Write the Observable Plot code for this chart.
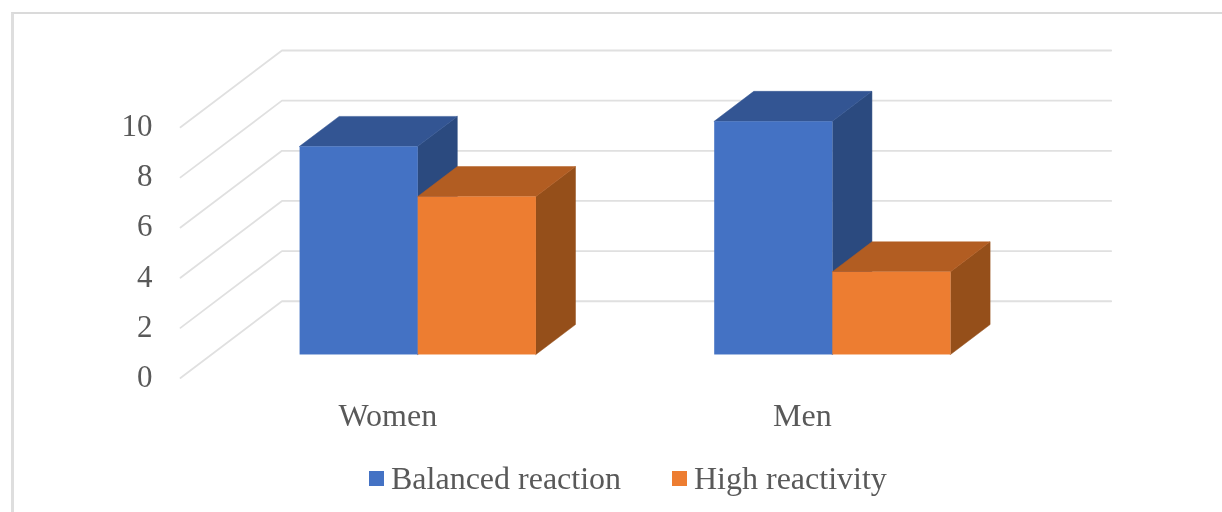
<!DOCTYPE html>
<html>
<head>
<meta charset="utf-8">
<script src="https://cdn.jsdelivr.net/npm/d3@7"></script>
<script src="https://cdn.jsdelivr.net/npm/@observablehq/plot@0.6"></script>
<style>
  html, body { margin: 0; padding: 0; background: #fff; width: 1222px; height: 512px; overflow: hidden; }
  #frame { position: absolute; left: 11px; top: 12px; width: 1230px; height: 520px; border-top: 2.5px solid #DADADA; border-left: 3px solid #DEDEDE; box-sizing: border-box; }
  #chart { position: absolute; left: 0; top: 0; }
  #chart svg { display: block; filter: blur(0.4px); }
  #legend { position: absolute; left: 0; top: 455px; width: 1222px; height: 57px; font: 32px "Liberation Serif", serif; color: #595959; filter: blur(0.4px); }
  #legend .item { position: absolute; top: 5px; display: flex; align-items: center; white-space: nowrap; line-height: 36px; }
  #legend .swatch { width: 15px; height: 15px; margin-right: 7px; display: inline-block; }
</style>
</head>
<body>
<div id="frame"></div>
<div id="chart"></div>
<div id="legend"></div>
<script>
const categories = ["Women", "Men"];
const seriesNames = ["Balanced reaction", "High reactivity"];
const balanced = [8.3, 9.3];
const highReactivity = [6.3, 3.3];
const valueTicks = [0, 2, 4, 6, 8, 10];

const frontColors = ["#4472C4", "#ED7D31"];
const topColors = ["#335593", "#B25D22"];
const sideColors = ["#2B4A7F", "#954F1A"];

// Oblique projection, in data units of the two scales
const depthX = 0.2447;   // category units across the floor's depth
const depthY = 3.06;     // value units up the floor's depth
const barFront = 0.30;   // share of the depth where a bar starts
const barBack = 0.69;    // share of the depth where a bar ends
const barWidth = 0.285;  // category units

const gridRows = valueTicks.flatMap(v => [
  {v, x: 0, y: v},
  {v, x: depthX, y: v + depthY},
  {v, x: categories.length + depthX, y: v + depthY}
]);

const barMarks = [];
categories.forEach((cat, c) => {
  [balanced, highReactivity].forEach((series, s) => {
    const value = series[c];
    const x0 = c + 0.5 - barWidth + s * barWidth;
    const x1 = x0 + barWidth;
    const fx = x0 + barFront * depthX, fx1 = x1 + barFront * depthX;
    const bx = x0 + barBack * depthX, bx1 = x1 + barBack * depthX;
    const fBase = barFront * depthY, fTop = value + fBase;
    const bBase = barBack * depthY, bTop = value + bBase;
    barMarks.push(
      Plot.areaY([{x: fx1, y1: fBase, y2: fTop}, {x: bx1, y1: bBase, y2: bTop}],
        {x: "x", y1: "y1", y2: "y2", fill: sideColors[s], stroke: sideColors[s], strokeWidth: 0.5}),
      Plot.areaX([{y: fTop, x1: fx, x2: fx1}, {y: bTop, x1: bx, x2: bx1}],
        {y: "y", x1: "x1", x2: "x2", fill: topColors[s], stroke: topColors[s], strokeWidth: 0.5}),
      Plot.rect([{x1: fx, x2: fx1, y1: fBase, y2: fTop}],
        {x1: "x1", x2: "x2", y1: "y1", y2: "y2", fill: frontColors[s], inset: 0})
    );
  });
});

const plot = Plot.plot({
  width: 1222,
  height: 455,
  margin: 0,
  style: {background: "transparent", fontFamily: "'Liberation Serif', serif"},
  x: {type: "linear", domain: [0, categories.length + depthX], range: [180, 1110.7], axis: null},
  y: {type: "linear", domain: [0, 10 + depthY], range: [377.5, 50], axis: null},
  marks: [
    Plot.line(gridRows, {x: "x", y: "y", z: "v", stroke: "#E0E0E0", strokeWidth: 1.8, curve: "linear"}),
    ...barMarks,
    Plot.text(valueTicks, {x: () => 0, y: d => d, text: d => String(d), textAnchor: "end", dx: -28, dy: -1, fontSize: 31, fill: "#595959"}),
    Plot.text(categories, {x: (d, i) => i + 0.5, y: () => 0, text: d => d, dy: 38, fontSize: 32, fill: "#595959"})
  ]
});
document.getElementById("chart").appendChild(plot);

const legendLefts = [369, 672];
const legend = document.getElementById("legend");
seriesNames.forEach((name, i) => {
  const item = document.createElement("div");
  item.className = "item";
  item.style.left = legendLefts[i] + "px";
  const sw = document.createElement("span");
  sw.className = "swatch";
  sw.style.background = frontColors[i];
  item.appendChild(sw);
  item.appendChild(document.createTextNode(name));
  legend.appendChild(item);
});
</script>
</body>
</html>
